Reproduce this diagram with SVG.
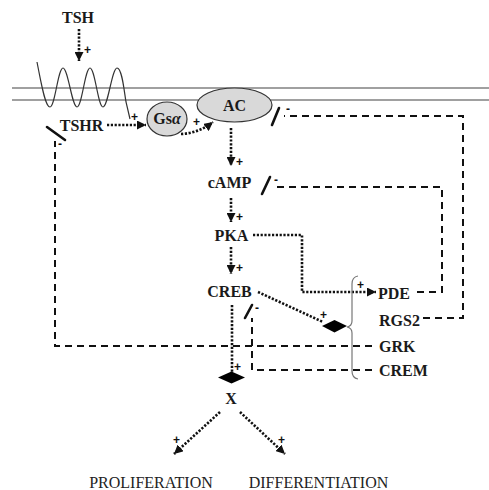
<svg xmlns="http://www.w3.org/2000/svg" width="489" height="490" viewBox="0 0 489 490">
<style>
.lbl{font-family:"Liberation Serif","Times New Roman",serif;font-weight:bold;font-size:16px;fill:#1a1a1a}
.out{font-family:"Liberation Serif","Times New Roman",serif;font-size:16px;fill:#222}
.sg{font-family:"Liberation Sans",Arial,sans-serif;font-weight:bold;font-size:12px;fill:#111}
.dot{fill:none;stroke:#111;stroke-width:2.6;stroke-dasharray:2.2 1.6}
.dash{fill:none;stroke:#111;stroke-width:2;stroke-dasharray:7 5}
.inh{stroke:#111;stroke-width:2.6;stroke-linecap:round}
.mem{stroke:#808080;stroke-width:1.3}
.ell{fill:#d9d9d9;stroke:#333;stroke-width:1.2}
.dia{fill:#000}
</style>
<defs>
<marker id="ah" markerUnits="userSpaceOnUse" markerWidth="10" markerHeight="9" refX="9" refY="4.5" orient="auto">
<path d="M0,0 L9,4.5 L0,9 z" fill="#111"/>
</marker>
</defs>
<rect width="489" height="490" fill="#fff"/>

<g id="membrane">
<line class="mem" x1="12" y1="88" x2="489" y2="88"/>
<line class="mem" x1="12" y1="100" x2="489" y2="100"/>
</g>

<g id="connectors">
<path class="dot" d="M79,29 L79,61" marker-end="url(#ah)"/>
<path class="dot" d="M107,125 L146,125" marker-end="url(#ah)"/>
<path class="dot" d="M181,134 Q199,133 213,122" marker-end="url(#ah)"/>
<path class="dot" d="M231,128 L231,166" marker-end="url(#ah)"/>
<path class="dot" d="M231,198 L231,222" marker-end="url(#ah)"/>
<path class="dot" d="M231,247 L231,274" marker-end="url(#ah)"/>
<path class="dot" d="M253,235 L302,235 L302,292 L376,292" marker-end="url(#ah)"/>
<path class="dot" d="M258,292 L323,322"/>
<path class="dot" d="M232,305 L232,372"/>
<path class="dot" d="M220,412 L174,454" marker-end="url(#ah)"/>
<path class="dot" d="M240,412 L285,454" marker-end="url(#ah)"/>
<path class="dash" d="M417,292 L442,292 L442,187 L276,187"/>
<path class="dash" d="M423,318 L463,318 L463,116 L284,116"/>
<path class="dash" d="M372,346 L55,346 L55,141"/>
<path class="dash" d="M372,370 L252,370 L252,318"/>
<line class="inh" x1="262" y1="194" x2="270" y2="177"/>
<line class="inh" x1="272" y1="125" x2="279" y2="108"/>
<line class="inh" x1="47" y1="127" x2="65" y2="140"/>
<line class="inh" x1="245" y1="318" x2="252" y2="305"/>
<path d="M358,276 Q352,277 352,284 L352,321 Q352,326 347,327 Q352,328 352,333 L352,371 Q352,378 358,379" fill="none" stroke="#777" stroke-width="1.2"/>
<g class="sg">
<text x="84" y="54">+</text>
<text x="131" y="121">+</text>
<text x="193" y="126">+</text>
<text x="236" y="166">+</text>
<text x="236" y="221">+</text>
<text x="236" y="272">+</text>
<text x="357" y="289">+</text>
<text x="320" y="319">+</text>
<text x="234" y="371">+</text>
<text x="173" y="444">+</text>
<text x="278" y="444">+</text>
<text x="274" y="184">-</text>
<text x="286" y="113">-</text>
<text x="58" y="148">-</text>
<text x="255" y="312">-</text>
</g>
</g>

<g id="TSHR">
<path d="M37,62 C41,82 45,107 50,107 C55,107 58,68 63,68 C68,68 72,107 77,107 C82,107 85,68 90,68 C95,68 98,107 103,107 C108,107 112,68 117,68 C122,68 124,90 126,102 L130,119" fill="none" stroke="#333" stroke-width="1.2"/>
<text class="lbl" x="81.5" y="131" text-anchor="middle">TSHR</text>
</g>
<g id="TSH"><text class="lbl" x="78" y="23" text-anchor="middle">TSH</text></g>
<g id="Gsa">
<ellipse class="ell" cx="167" cy="119" rx="20" ry="17"/>
<text class="lbl" x="167" y="124" text-anchor="middle" font-size="15">Gs<tspan font-style="italic">α</tspan></text>
</g>
<g id="AC">
<ellipse class="ell" cx="234.5" cy="105" rx="37.5" ry="17"/>
<text class="lbl" x="234.5" y="111" text-anchor="middle">AC</text>
</g>
<g id="cAMP"><text class="lbl" x="229.5" y="188" text-anchor="middle">cAMP</text></g>
<g id="PKA"><text class="lbl" x="231.5" y="241" text-anchor="middle">PKA</text></g>
<g id="CREB"><text class="lbl" x="229.5" y="297" text-anchor="middle">CREB</text></g>
<g id="PDE"><text class="lbl" x="378" y="299">PDE</text></g>
<g id="RGS2"><text class="lbl" x="379" y="326">RGS2</text></g>
<g id="GRK"><text class="lbl" x="379" y="352">GRK</text></g>
<g id="CREM"><text class="lbl" x="379" y="376">CREM</text></g>
<g id="diamond1"><path class="dia" d="M322,326 L334.5,320 L347,326 L334.5,332.5 z"/></g>
<g id="diamond2"><path class="dia" d="M218,377.5 L231.5,371.5 L245,377.5 L231.5,383.5 z"/></g>
<g id="X"><text class="lbl" x="231" y="404" text-anchor="middle">X</text></g>
<g id="PROLIFERATION"><text class="out" x="151" y="488" text-anchor="middle">PROLIFERATION</text></g>
<g id="DIFFERENTIATION"><text class="out" x="318.5" y="488" text-anchor="middle">DIFFERENTIATION</text></g>
</svg>
